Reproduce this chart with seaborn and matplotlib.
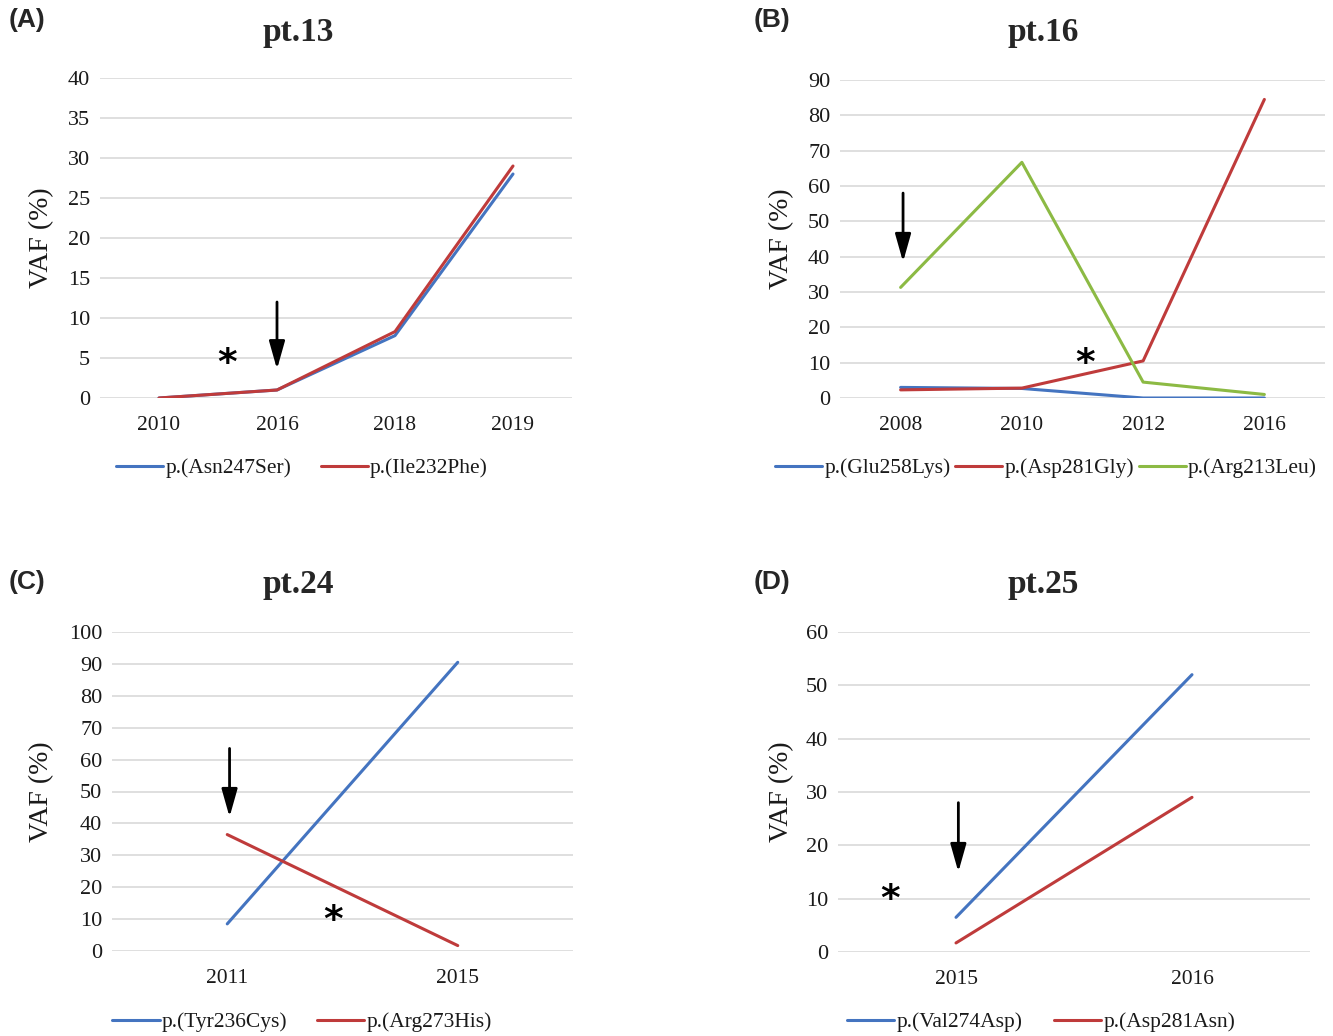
import pandas as pd
import matplotlib.pyplot as plt
import seaborn as sns

# ---------------------------------------------------------------------------
# data (VAF in %)
# ---------------------------------------------------------------------------
years_a = ['2010', '2016', '2018', '2019']
asn247ser = [0, 1.0, 7.8, 28.0]
ile232phe = [0, 1.0, 8.3, 29.0]

years_b = ['2008', '2010', '2012', '2016']
glu258lys = [3.0, 2.7, 0, 0]
asp281gly = [2.3, 2.8, 10.5, 84.5]
arg213leu = [31.3, 66.7, 4.5, 1.0]

years_c = ['2011', '2015']
tyr236cys = [8.5, 90.5]
arg273his = [36.5, 1.7]

years_d = ['2015', '2016']
val274asp = [6.5, 52.0]
asp281asn = [1.7, 29.0]

BLUE = '#4474C0'
RED = '#BF3B3B'
GREEN = '#8CBA44'

sns.set_theme(style='white')
plt.rcParams['font.family'] = ['Liberation Serif', 'DejaVu Serif']


def long_df(years, series):
    rows = []
    for name, vals in series.items():
        for i, v in enumerate(vals):
            rows.append({'t': i, 'VAF': v, 'variant': name})
    return pd.DataFrame(rows)


fig = plt.figure(figsize=(13.33, 10.36), dpi=100)
W, H = 1333, 1036


def px_axes(l, t, r, b):
    return fig.add_axes([l / W, 1 - b / H, (r - l) / W, (b - t) / H])


panels = [
    dict(box=(100, 78, 572, 398), years=years_a, ymax=40, step=5,
         series={'p.(Asn247Ser)': asn247ser, 'p.(Ile232Phe)': ile232phe},
         colors=[BLUE, RED], title='pt.13', tag='(A)', tag_xy=(9, 20),
         title_xy=(298, 32), leg_xy=(302, 468), colsp=1.35, ylab_x=54,
         arrow=(1.0, 12.0, 3.6), star=(0.58, 4.2)),
    dict(box=(840, 80, 1325, 398), years=years_b, ymax=90, step=10,
         series={'p.(Glu258Lys)': glu258lys, 'p.(Asp281Gly)': asp281gly,
                 'p.(Arg213Leu)': arg213leu},
         colors=[BLUE, RED, GREEN], title='pt.16', tag='(B)', tag_xy=(754, 20),
         title_xy=(1043, 32), leg_xy=(1046, 468), colsp=0.2, ylab_x=794,
         arrow=(0.02, 58.0, 38.5), star=(1.52, 9.5)),
    dict(box=(112, 632, 573, 951), years=years_c, ymax=100, step=10,
         series={'p.(Tyr236Cys)': tyr236cys, 'p.(Arg273His)': arg273his},
         colors=[BLUE, RED], title='pt.24', tag='(C)', tag_xy=(9, 582),
         title_xy=(298, 585), leg_xy=(302, 1022), colsp=1.35, ylab_x=54,
         arrow=(0.01, 63.5, 42.0), star=(0.46, 9.5)),
    dict(box=(838, 632, 1310, 952), years=years_d, ymax=60, step=10,
         series={'p.(Val274Asp)': val274asp, 'p.(Asp281Asn)': asp281asn},
         colors=[BLUE, RED], title='pt.25', tag='(D)', tag_xy=(754, 582),
         title_xy=(1043, 585), leg_xy=(1041, 1022), colsp=1.45, ylab_x=794,
         arrow=(0.01, 28.0, 15.0), star=(-0.28, 9.8)),
]

for p in panels:
    ax = px_axes(*p['box'])
    df = long_df(p['years'], p['series'])
    sns.lineplot(data=df, x='t', y='VAF', hue='variant',
                 palette=p['colors'], linewidth=2.2, ax=ax, legend=True)

    n = len(p['years'])
    ax.set_xlim(-0.5, n - 0.5)
    ax.set_ylim(0, p['ymax'])
    ax.set_xticks(range(n))
    ax.set_xticklabels(p['years'], fontsize=15.5)
    ax.set_yticks(range(0, p['ymax'] + 1, p['step']))
    ax.yaxis.grid(True, color='#D9D9D9', linewidth=1.2)
    ax.set_axisbelow(True)
    for s in ax.spines.values():
        s.set_visible(False)
    ax.tick_params(axis='both', length=0, colors='#1a1a1a')
    ax.tick_params(axis='y', labelsize=16, pad=7)
    ax.tick_params(axis='x', pad=13)
    ax.set_xlabel('')
    ax.set_ylabel('VAF (%)', fontsize=20, color='#1a1a1a')
    l = p['box'][0]
    width = p['box'][2] - p['box'][0]
    ax.yaxis.set_label_coords((p['ylab_x'] - l) / width, 0.5)

    # arrow and asterisk markers
    ax_x, y0, y1 = p['arrow']
    ax.annotate('', xy=(ax_x, y1), xytext=(ax_x, y0),
                arrowprops=dict(arrowstyle='-|>,head_length=0.85,head_width=0.24',
                                color='black', lw=2, mutation_scale=20,
                                shrinkA=0, shrinkB=0))
    ax.text(p['star'][0], p['star'][1], '*', fontsize=27, fontweight='bold',
            ha='center', va='center', family='DejaVu Sans', color='black')

    handles, labels = ax.get_legend_handles_labels()
    ax.legend(handles, labels, loc='center', ncol=len(labels),
              bbox_to_anchor=(p['leg_xy'][0] / W, 1 - p['leg_xy'][1] / H),
              bbox_transform=fig.transFigure, frameon=False, fontsize=15.5,
              handlelength=2.2, handletextpad=0.1, columnspacing=p['colsp'],
              labelcolor='#1a1a1a')

    fig.text(p['title_xy'][0] / W, 1 - p['title_xy'][1] / H, p['title'],
             fontsize=24, fontweight='bold', ha='center', va='center')
    fig.text(p['tag_xy'][0] / W, 1 - p['tag_xy'][1] / H, p['tag'],
             fontsize=19, fontweight='bold', ha='left', va='center',
             family='Liberation Sans')

fig.savefig('out.png', dpi=100, facecolor='white')
